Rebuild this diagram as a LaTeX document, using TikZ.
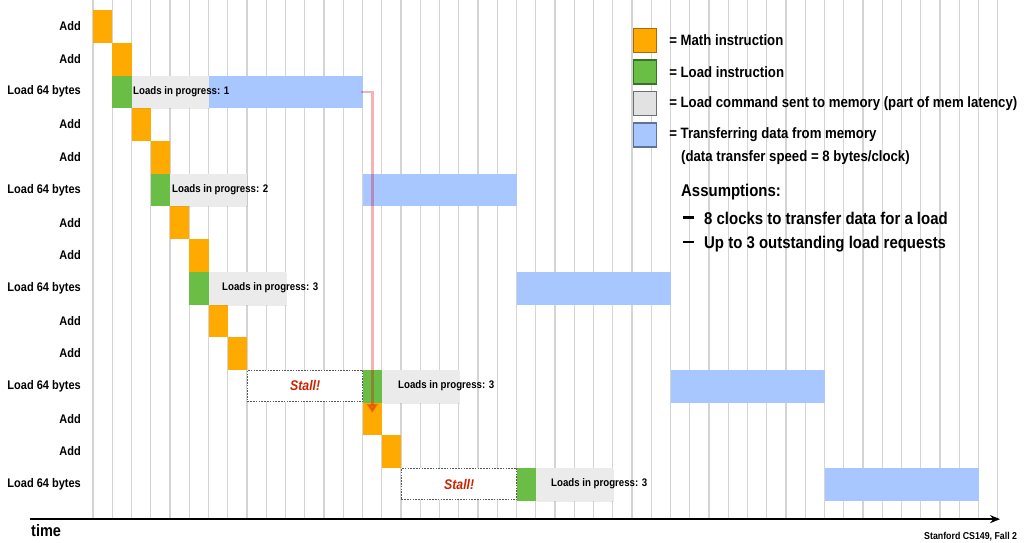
\documentclass[tikz,border=0pt]{standalone}
\usepackage{fontspec}
\setmainfont{Liberation Sans}[FakeStretch=0.88]
\usepackage{xcolor}
\usetikzlibrary{arrows.meta,positioning,shadows}
\definecolor{mathorange}{RGB}{255,170,0}
\definecolor{mathedge}{RGB}{170,105,10}
\definecolor{loadgreen}{RGB}{106,190,69}
\definecolor{loadedge}{RGB}{55,115,35}
\definecolor{cmdgrey}{RGB}{235,235,235}
\definecolor{cmdlegend}{RGB}{226,226,226}
\definecolor{cmdedge}{RGB}{110,110,110}
\definecolor{xferblue}{RGB}{168,198,255}
\definecolor{xferedge}{RGB}{95,115,150}
\definecolor{stallred}{RGB}{204,34,0}
\definecolor{gridgrey}{RGB}{212,212,212}

\begin{document}
\begin{tikzpicture}[
    x=19.25pt, y=-32.7pt,
    blk/.style={anchor=north west, inner sep=0pt, minimum width=19.25pt, minimum height=32.7pt},
    mathblk/.style={blk, fill=mathorange},
    loadblk/.style={blk, fill=loadgreen},
    cmdblk/.style={blk, fill=cmdgrey, minimum width=77pt,
        drop shadow={shadow xshift=1pt, shadow yshift=-1pt, opacity=0.15}},
    xferblk/.style={blk, fill=xferblue, minimum width=154pt},
    stallblk/.style={blk, fill=white, draw=black!65, line width=0.9pt,
        dash pattern=on 1.6pt off 1.2pt, minimum width=115.5pt, minimum height=31.5pt,
        text=stallred, font=\bfseries\itshape\fontsize{14}{16}\selectfont},
    rowlbl/.style={anchor=east, inner sep=0pt, font=\bfseries\fontsize{12.5}{14}\selectfont},
    progress/.style={anchor=west, inner sep=0pt, font=\bfseries\fontsize{11}{13}\selectfont},
    legsq/.style={line width=1.2pt, minimum width=23pt, minimum height=24pt, inner sep=0pt},
    legtxt/.style={anchor=west, inner sep=0pt, font=\bfseries\fontsize{15}{17}\selectfont},
    bigtxt/.style={anchor=west, inner sep=0pt, font=\bfseries\fontsize{17}{19}\selectfont},
    gridline/.style={gridgrey, line width=1.3pt},
    waitarrow/.style={draw=red!85!black, opacity=0.3, line width=2.6pt,
        -{Triangle[width=11pt,length=9pt]}},
    >=Stealth,
]
    \useasboundingbox (-4.831,-0.306) rectangle (48.364,16.269);

    \foreach \c in {0,...,47} { \draw[gridline] (\c,-0.31) -- (\c,15.57); }

    \foreach \r/\t in {0/Add, 1/Add, 2/Load 64 bytes, 3/Add, 4/Add, 5/Load 64 bytes,
        6/Add, 7/Add, 8/Load 64 bytes, 9/Add, 10/Add, 11/Load 64 bytes,
        12/Add, 13/Add, 14/Load 64 bytes}
        { \node[rowlbl] (lbl\r) at (-0.623, \r+0.5) {\t}; }

    \foreach \r/\c in {0/0, 1/1, 3/2, 4/3, 6/4, 7/5, 9/6, 10/7, 12/14, 13/15}
        { \node[mathblk] (add\r) at (\c,\r) {}; }

    \node[loadblk] (ld1) at (1,2) {};
    \node[cmdblk] (cmd1) at (2,2) {};
    \node[xferblk] (xfer1) at (6,2) {};
    \node[progress] (prog1) at (2.078,2.5) {Loads in progress: 1};

    \node[loadblk] (ld2) at (3,5) {};
    \node[cmdblk] (cmd2) at (4,5) {};
    \node[xferblk] (xfer2) at (14,5) {};
    \node[progress] (prog2) at (4.104,5.5) {Loads in progress: 2};

    \node[loadblk] (ld3) at (5,8) {};
    \node[cmdblk] (cmd3) at (6,8) {};
    \node[xferblk] (xfer3) at (22,8) {};
    \node[progress] (prog3) at (6.701,8.5) {Loads in progress: 3};

    \node[stallblk] (stall4) at (8,11) {Stall!};
    \node[loadblk] (ld4) at (14,11) {};
    \node[cmdblk] (cmd4) at (15,11) {};
    \node[xferblk] (xfer4) at (30,11) {};
    \node[progress] (prog4) at (15.844,11.5) {Loads in progress: 3};

    \node[stallblk] (stall5) at (16,14) {Stall!};
    \node[loadblk] (ld5) at (22,14) {};
    \node[cmdblk] (cmd5) at (23,14) {};
    \node[xferblk] (xfer5) at (38,14) {};
    \node[progress] (prog5) at (23.792,14.5) {Loads in progress: 3};

    \draw[waitarrow, shorten >=6pt] ([xshift=-2pt]xfer1.east) -| (add12.center);

    \node[legsq, fill=mathorange, draw=mathedge] (lgmath) at (28.675,0.933) {};
    \node[legsq, fill=loadgreen, draw=loadedge] (lgload) at (28.675,1.896) {};
    \node[legsq, fill=cmdlegend, draw=cmdedge] (lgcmd) at (28.675,2.859) {};
    \node[legsq, fill=xferblue, draw=xferedge] (lgxfer) at (28.675,3.823) {};
    \node[legtxt, right=12pt of lgmath] (lgmathtxt) {= Math instruction};
    \node[legtxt, right=12pt of lgload] (lgloadtxt) {= Load instruction};
    \node[legtxt, right=12pt of lgcmd] (lgcmdtxt) {= Load command sent to memory (part of mem latency)};
    \node[legtxt, right=12pt of lgxfer] (lgxfertxt) {= Transferring data from memory};
    \node[legtxt] (lgspeed) at (30.545,4.526) {(data transfer speed = 8 bytes/clock)};

    \node[bigtxt] (assume) at (30.545,5.566) {Assumptions:};
    \node[bigtxt] (assume1) at (30.649,6.36) {\rule[0.32em]{11pt}{2.2pt}\hspace{10pt}8 clocks to transfer data for a load};
    \node[bigtxt] (assume2) at (30.649,7.156) {\rule[0.32em]{11pt}{2.2pt}\hspace{10pt}Up to 3 outstanding load requests};

    \coordinate (t0) at (-3.273,15.57);
    \coordinate (t1) at (47.12,15.57);
    \draw[line width=2pt, -{Stealth[length=10pt,width=8pt]}] (t0) -- (t1);
    \node[anchor=west, inner sep=0pt, font=\bfseries\fontsize{16.5}{18}\selectfont] (timelbl) at (-3.221,15.93) {time};
    \node[anchor=west, inner sep=0pt, font=\bfseries\fontsize{10}{12}\selectfont] (credit) at (43.169,16.12) {Stanford CS149, Fall 2};
\end{tikzpicture}
\end{document}
